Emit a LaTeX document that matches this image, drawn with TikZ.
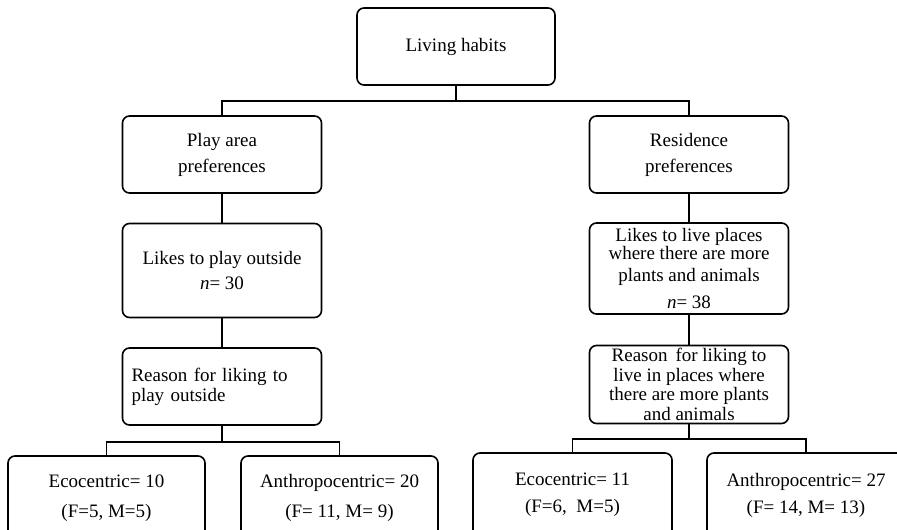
\documentclass[tikz,border=0pt]{standalone}
\usepackage{fontspec}
\setmainfont{Liberation Serif}
\usepackage{tikz}
\usetikzlibrary{positioning}

\begin{document}
\begin{tikzpicture}[x=1pt, y=1pt, node distance={116pt}, line width=1.6pt,
	main/.style = {draw, rounded corners=7pt, minimum width=199pt, minimum height=77pt, inner sep=0pt, align=center, font=\fontsize{19}{20}\selectfont}]
	\clip (0,0) rectangle (897,530);
	\node[main, minimum width=198pt] (1) at (456,483.5) {Living habits};
	\node[main] (2) at (222,375.5) {Play area\\[6pt]preferences};
	\node[main] (3) at (689,375.5) {Residence\\[6pt]preferences};
	\node[main, minimum height=94pt] [below of=2] (4) {Likes to play outside\\[5pt]\textit{n}= 30};
	\draw (2) -- (4);
	\node[main, text width=181pt, align=left] [below of=4] (5) {Reason for liking to\\play outside};
	\draw (4) -- (5);
	\node[main, minimum height=91pt] [below of=3, node distance=114pt] (6) {Likes to live places\\[-2pt]where there are more\\[2pt]plants and animals\\[7pt]\textit{n}= 38};
	\draw (3) -- (6);
	\node[main, minimum height=78pt, font=\fontsize{19}{19.5}\selectfont] [below of=6] (7) {Reason\, for liking to\\live in places where\\there are more plants\\and animals};
	\draw (6) -- (7);
	% bottom row
	\node[main, minimum width=197pt, minimum height=84pt] (8) at (106.5,32) {Ecocentric= 10\\[10pt](F=5, M=5)};
	\node[main, minimum width=197pt, minimum height=84pt] (9) at (339.5,32) {Anthropocentric= 20\\[10pt](F= 11, M= 9)};
	\node[main, minimum width=199pt, minimum height=84pt] (10) at (572.5,35) {Ecocentric= 11\\[7pt](F=6,\enspace M=5)};
	\node[main, minimum width=198pt, minimum height=84pt] (11) at (806,35) {Anthropocentric= 27\\[7pt](F= 14, M= 13)};
	% connectors
	\draw (1.south) -- ++(0,-15) -| (2.north);
	\draw (1.south) -- ++(0,-15) -| (3.north);
	\draw (5.south) -- ++(0,-16) -| (8.north);
	\draw (5.south) -- ++(0,-16) -| (9.north);
	\draw (7.south) -- ++(0,-15) -| (10.north);
	\draw (7.south) -- ++(0,-15) -| (11.north);
\end{tikzpicture}
\end{document}
